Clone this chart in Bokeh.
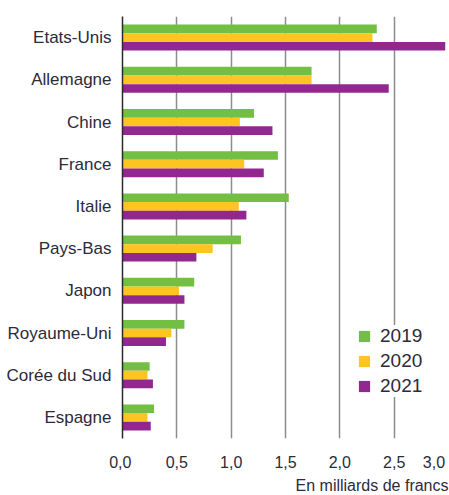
from bokeh.plotting import figure
from bokeh.models import (FactorRange, Range1d, FixedTicker, Legend, LegendItem,
                          Title, ColumnDataSource)
from bokeh.transform import dodge
from bokeh.embed import file_html
from bokeh.resources import INLINE

countries = ["Etats-Unis", "Allemagne", "Chine", "France", "Italie", "Pays-Bas",
             "Japon", "Royaume-Uni", "Corée du Sud", "Espagne"]
years = ["2019", "2020", "2021"]
v2019 = [2.34, 1.74, 1.21, 1.43, 1.53, 1.09, 0.66, 0.57, 0.25, 0.29]
v2020 = [2.30, 1.74, 1.08, 1.12, 1.07, 0.83, 0.52, 0.45, 0.23, 0.23]
v2021 = [2.97, 2.45, 1.38, 1.30, 1.14, 0.68, 0.57, 0.40, 0.28, 0.26]
ticks = [0, 0.5, 1.0, 1.5, 2.0, 2.5, 3.0]
tick_labels = ["0,0", "0,5", "1,0", "1,5", "2,0", "2,5", "3,0"]
unit_label = "En milliards de francs"

colors = ["#73bf44", "#fdc521", "#92278f"]
text_color = "#2b2b3a"
font = "Liberation Sans"
NBSP = "\u00a0"

src = ColumnDataSource(dict(country=countries, y2019=v2019, y2020=v2020, y2021=v2021))

p = figure(width=449, height=495,
           y_range=FactorRange(factors=countries[::-1]),
           x_range=Range1d(ticks[0], ticks[-1]),
           output_backend="svg", toolbar_location=None,
           min_border_left=122, min_border_right=1,
           min_border_top=16, min_border_bottom=54)
p.outline_line_color = None

bar_h = 0.205
offsets = [bar_h, 0.0, -bar_h]
renderers = []
for yr, col, off in zip(years, colors, offsets):
    r = p.hbar(y=dodge("country", off, range=p.y_range), left=0, right="y" + yr,
               height=bar_h, fill_color=col, line_color=None, source=src)
    renderers.append(r)

# x axis: tick labels with decimal comma; end labels nudged inward
overrides = {t: lab for t, lab in zip(ticks, tick_labels)}
overrides[ticks[0]] = tick_labels[0] + NBSP
overrides[ticks[-1]] = tick_labels[-1] + NBSP
p.xaxis.ticker = FixedTicker(ticks=ticks)
p.xaxis.major_label_overrides = overrides
p.xaxis.axis_line_color = None
p.xaxis.major_tick_line_color = None
p.xaxis.minor_tick_line_color = None
p.xaxis.major_tick_out = 0
p.xaxis.major_label_text_font = font
p.xaxis.major_label_text_font_size = "16px"
p.xaxis.major_label_text_color = text_color
p.xaxis.major_label_standoff = 15

p.yaxis.axis_line_color = "#2a2a2a"
p.yaxis.axis_line_width = 1.5
p.yaxis.major_tick_line_color = None
p.yaxis.minor_tick_line_color = None
p.yaxis.major_tick_out = 0
p.yaxis.major_label_standoff = 11
p.yaxis.major_label_text_font = font
p.yaxis.major_label_text_font_size = "17px"
p.yaxis.major_label_text_color = text_color

p.xgrid.grid_line_color = "#8c8c8c"
p.xgrid.grid_line_width = 1.5
p.ygrid.grid_line_color = None

unit = Title(text=unit_label, align="right", text_font=font, text_font_size="16px",
             text_font_style="normal", text_color=text_color, standoff=3)
p.add_layout(unit, "below")

legend = Legend(items=[LegendItem(label=yr, renderers=[r]) for yr, r in zip(years, renderers)],
                location=(235, 41), glyph_width=14, glyph_height=14, label_height=22,
                spacing=3, padding=10, margin=0, border_line_color=None,
                background_fill_color="white", background_fill_alpha=1.0,
                label_text_font=font, label_text_font_size="19px",
                label_text_color=text_color, label_standoff=9)
p.add_layout(legend)

open("out.html", "w").write(file_html(p, INLINE))
